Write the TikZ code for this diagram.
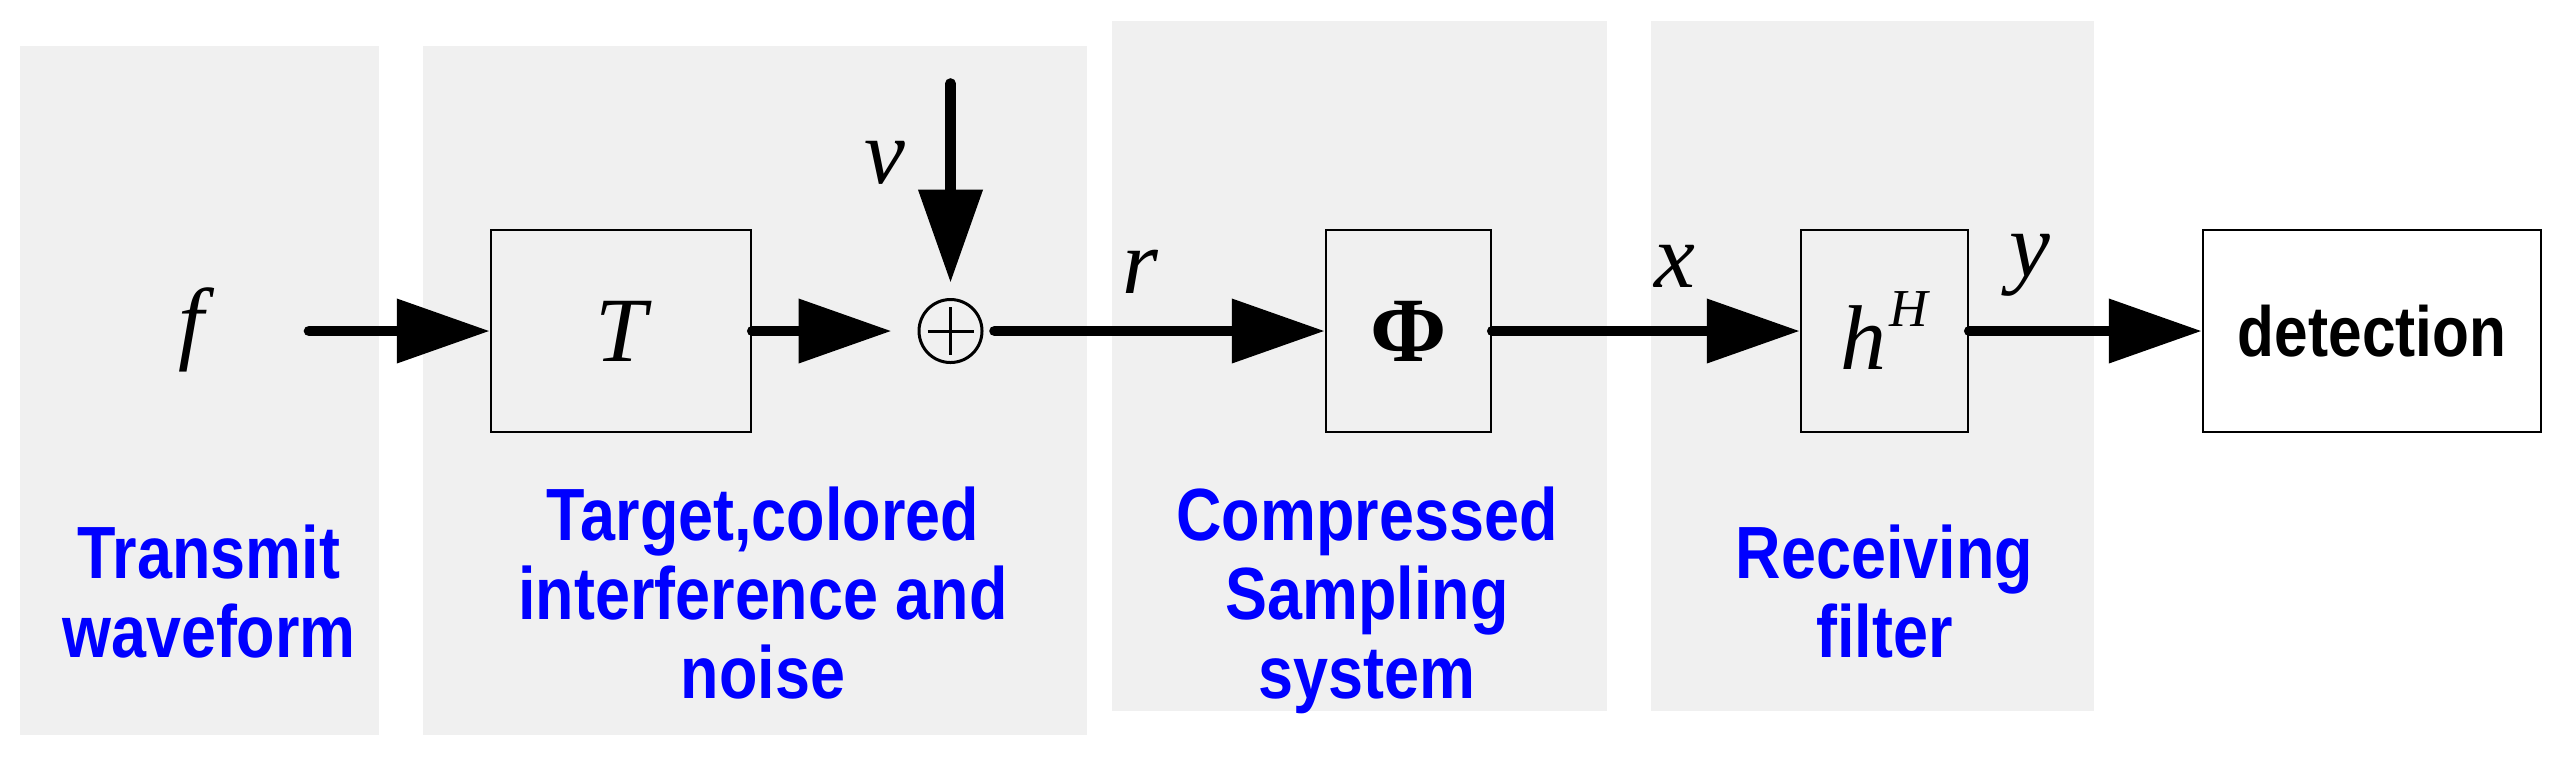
\documentclass[tikz,border=0pt]{standalone}
\usepackage{fontspec}
\setmainfont{Liberation Serif}
\newfontfamily\labfont{Liberation Sans}[FakeStretch=0.85]
\usetikzlibrary{arrows.meta}
\definecolor{panelgray}{RGB}{240,240,240}
\definecolor{labelblue}{RGB}{0,0,255}
\begin{document}
\begin{tikzpicture}[x=0.3pt,y=-0.3pt,
  panel/.style={fill=panelgray, draw=none},
  blk/.style={draw, line width=0.75pt, inner sep=0pt, minimum height=60.6pt,
    font=\fontsize{27.6}{30}\selectfont},
  sig/.style={line width=3.2pt, line cap=round, -{Triangle[length=27.9pt,width=18.6pt]}},
  sym/.style={font=\fontsize{27.6}{30}\selectfont\itshape, inner sep=0pt, anchor=base},
  lab/.style={font=\labfont\bfseries\fontsize{22.2}{23.7}\selectfont, text=labelblue,
    align=center, inner sep=0pt, anchor=north}]
\useasboundingbox (0,0) rectangle (2564,764);
% panels
\fill[panel] (20,46) rectangle (379,735);
\fill[panel] (423,46) rectangle (1087,735);
\fill[panel] (1112,21) rectangle (1607,711);
\fill[panel] (1651,21) rectangle (2094,711);
% blocks
\node[blk, minimum width=78pt] (T) at (621,331) {\itshape T};
\node[blk, minimum width=49.5pt] (phi) at (1408.5,331) {\bfseries Φ};
\node[blk, minimum width=50.1pt] (h) at (1884.5,331) {\itshape h\kern1pt\raisebox{12.9pt}{\fontsize{16}{16}\selectfont\itshape H}};
\node[blk, minimum width=101.4pt, fill=white, font=\labfont\bfseries\fontsize{21.3}{24}\selectfont] (det) at (2372,331) {detection};
% summing junction
\node[circle, draw, line width=0.9pt, minimum size=18.9pt, inner sep=0pt] (sum) at (950.5,331) {};
\draw[line width=0.9pt] ([xshift=-6.9pt]sum.center) -- ([xshift=6.9pt]sum.center);
\draw[line width=0.9pt] ([yshift=-7.2pt]sum.center) -- ([yshift=7.2pt]sum.center);
% signal labels
\node[sym] (f) at (191,352) {f};
\node[sym] (vl) at (885,183) {v};
\node[sym] (rl) at (1140,293) {r};
\node[sym] (xl) at (1675,287) {x};
\node[sym] (yl) at (2030,276) {y};
% connectors
\coordinate (fo) at (309,331);
\coordinate (vo) at (950.5,83.5);
\draw[sig] (fo) -- (T.west);
\draw[sig, shorten >=7.8pt] (T.east) -- (sum.west);
\draw[sig, shorten >=4.6pt] (vo) -- (sum.north);
\draw[sig, shorten <=3.3pt] (sum.east) -- (phi.west);
\draw[sig] (phi.east) -- (h.west);
\draw[sig] (h.east) -- (det.west);
% blue labels
\node[lab] (l1) at (209,524) {Transmit\\waveform};
\node[lab] (l2) at (763,486) {Target,colored\\interference and\\noise};
\node[lab] (l3) at (1367,486) {Compressed\\Sampling\\system};
\node[lab] (l4) at (1884.5,524) {Receiving\\filter};
\end{tikzpicture}
\end{document}
